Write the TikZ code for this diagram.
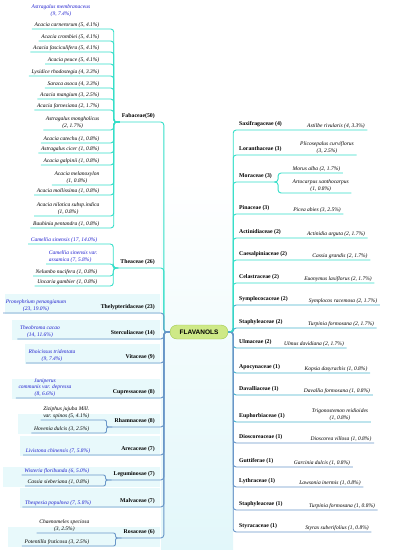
\documentclass[tikz,border=0pt]{standalone}
\usepackage{fontspec}
\setmainfont{Liberation Serif}
\setsansfont{Liberation Sans}
\usepackage{tikz}
\usetikzlibrary{positioning}
\definecolor{tealA}{RGB}{52,222,200}
\definecolor{tealB}{RGB}{70,178,205}
\definecolor{blueC}{RGB}{105,150,200}
\definecolor{specblue}{RGB}{30,30,205}
\definecolor{pill}{RGB}{206,233,135}
\definecolor{pillline}{RGB}{160,200,80}
\definecolor{bgcyan}{RGB}{226,247,250}

\tikzset{
  fam/.style={font=\fontsize{5.8}{6.5}\selectfont\bfseries, inner xsep=2pt, inner ysep=3.5pt},
  sp/.style={font=\fontsize{5.5}{6.5}\selectfont\itshape, inner xsep=2.5pt, inner ysep=1.5pt, align=center},
  spb/.style={sp, text=specblue},
  br/.style={line width=0.9pt, rounded corners=3pt},
  hub/.style={fill=pill, draw=pillline, rounded corners=7pt, minimum width=58pt,
    minimum height=14pt, font=\sffamily\bfseries\fontsize{6.5}{7}\selectfont},
}

\begin{document}
\begin{tikzpicture}[x=1pt,y=-1pt]
\useasboundingbox (0,0) rectangle (392,550);
% background
\shade[top color=white, bottom color=bgcyan] (161,180) rectangle (233,550);
\foreach \y/\x in {313/5,339/12,363/25,398/12,433/18,455/20,486/3,507/20,546/8}
  \fill[bgcyan!80] (\x,\y-19) rectangle (160,\y+1);

\node[hub] (flav) at (199,332) {FLAVANOLS};

% Fabaceae
\node[fam, anchor=south east] (fab) at (157,122) {Fabaceae(50)};
\node[spb, anchor=south] (astm) at (61,18) {Astragalus membranaceus\\(9, 7.4\%)};
\draw[br,tealA] (flav.west) -- ++(-6,0) |- (fab.south west);
\foreach[count=\i] \y/\t in {29/{Acacia carnerorum (5, 4.1\%)},
  41/{Acacia crombiei (5, 4.1\%)}, 52/{Acacia fasciculifera (5, 4.1\%)},
  64/{Acacia peuce (5, 4.1\%)}, 76/{Lysidice rhodostegia (4, 3.3\%)},
  88/{Saraca asoca (4, 3.3\%)}, 99/{Acacia mangium (3, 2.5\%)},
  110/{Acacia farnesiana (2, 1.7\%)}, 130/{Astragalus mongholicus\\(2, 1.7\%)},
  143/{Acacia catechu (1, 0.8\%)}, 153/{Astragalus cicer (1, 0.8\%)},
  165/{Acacia galpinii (1, 0.8\%)}, 185/{Acacia melanoxylon\\(1, 0.8\%)},
  195/{Acacia mollissima (1, 0.8\%)}, 216/{Acacia nilotica subsp.indica\\(1, 0.8\%)},
  228/{Bauhinia pentandra (1, 0.8\%)}}{
  \node[sp, anchor=south east] (fa\i) at (102,\y) {\t};
  \draw[br,tealA] (fab.south west) -- ++(-6,0) |- (fa\i.south east) -- (fa\i.south west);
}

% Theaceae
\node[fam, anchor=south east] (thea) at (157,268) {Theaceae (26)};
\node[spb, anchor=south east] (cam1) at (100,244) {Camellia sinensis (17, 14.0\%)};
\node[spb, anchor=south east, align=left] (cam2) at (100,264) {Camellia sinensis var.\\assamica (7, 5.8\%)};
\node[sp, anchor=south east] (nelu) at (100,276) {Nelumbo nucifera (1, 0.8\%)};
\node[sp, anchor=south east] (unca) at (100,286) {Uncaria gambier (1, 0.8\%)};
\draw[br,tealA] (flav.west) -- ++(-6,0) |- (thea.south west);
\foreach \n in {cam1,cam2,nelu,unca}
  \draw[br,tealA] (thea.south west) -- ++(-5,0) |- (\n.south east) -- (\n.south west);

% one-species families, left
\node[fam, anchor=south east] (thel) at (157,313) {Thelypteridaceae (23)};
\node[spb, anchor=south] (pron) at (36,313) {Pronephrium penangianum\\(23, 19.0\%)};
\node[fam, anchor=south east] (ster) at (157,339) {Sterculiaceae (14)};
\node[spb, anchor=south] (theo) at (40,339) {Theobroma cacao\\(14, 11.6\%)};
\node[fam, anchor=south east] (vita) at (157,363) {Vitaceae (9)};
\node[spb, anchor=south] (rhoi) at (52,363) {Rhoicissus tridentata\\(9, 7.4\%)};
\node[fam, anchor=south east] (cupr) at (157,398) {Cupressaceae (8)};
\node[spb, anchor=south] (juni) at (45,398) {Juniperus\\communis var. depressa\\(8, 6.6\%)};
\node[fam, anchor=south east] (arec) at (157,455) {Arecaceae (7)};
\node[spb, anchor=south] (livi) at (58,455) {Livistona chinensis (7, 5.8\%)};
\node[fam, anchor=south east] (malv) at (157,507) {Malvaceae (7)};
\node[spb, anchor=south] (thes) at (58,507) {Thespesia populnea (7, 5.8\%)};
\foreach \n in {pron,theo,rhoi,juni,livi,thes}
  \draw[br,blueC] (flav.west) -- ++(-6,0) |- (\n.south east) -- (\n.south west);

% families with two species, left
\node[fam, anchor=south east] (rham) at (157,427) {Rhamnaceae (8)};
\node[sp, anchor=south east, align=left] (zizi) at (92,420) {Ziziphus jujuba Mill.\\var. spinos (5, 4.1\%)};
\node[sp, anchor=south east] (hove) at (92,433) {Hovenia dulcis (3, 2.5\%)};
\node[fam, anchor=south east] (legu) at (157,480) {Leguminosae (7)};
\node[spb, anchor=south east] (wist) at (92,475) {Wisteria floribunda (6, 5.0\%)};
\node[sp, anchor=south east] (cass) at (92,486) {Cassia sieberiana (1, 0.8\%)};
\node[fam, anchor=south east] (rosa) at (157,538) {Rosaceae (6)};
\node[sp, anchor=south east] (chae) at (92,533) {Chaenomeles speciosa\\(3, 2.5\%)};
\node[sp, anchor=south east] (pote) at (92,546) {Potentilla fruticosa (3, 2.5\%)};
\foreach \f/\a/\b in {rham/zizi/hove, legu/wist/cass, rosa/chae/pote}{
  \draw[br,blueC] (flav.west) -- ++(-6,0) |- (\f.south west);
  \draw[br,blueC,rounded corners=2pt] (\f.south west) -- ++(-6,0) |- (\a.south east) -- (\a.south west);
  \draw[br,blueC,rounded corners=2pt] (\f.south west) -- ++(-6,0) |- (\b.south east) -- (\b.south west);
}

% right side
\foreach[count=\i] \y/\fn/\lx/\lt/\c in {
  130/{Saxifragaceae (4)}/336/{Astilbe rivularis (4, 3.3\%)}/tealA,
  155/{Loranthaceae (3)}/327/{Plicosepalus curviflorus\\(3, 2.5\%)}/tealA,
  214/{Pinaceae (3)}/317/{Picea abies (3, 2.5\%)}/tealA,
  238/{Actinidiaceae (2)}/336/{Actinidia arguta (2, 1.7\%)}/tealA,
  260/{Caesalpiniaceae (2)}/340/{Cassia grandis (2, 1.7\%)}/tealA,
  283/{Celastraceae (2)}/338/{Euonymus laxiflorus (2, 1.7\%)}/tealA,
  305/{Symplococaceae (2)}/343/{Symplocos racemosa (2, 1.7\%)}/tealB,
  328/{Staphyleaceae (2)}/341/{Turpinia formosana (2, 1.7\%)}/tealB,
  348/{Ulmaceae (2)}/314/{Ulmus davidiana (2, 1.7\%)}/tealB,
  373/{Apocynaceae (1)}/336/{Kopsia dasyrachis (1, 0.8\%)}/tealB,
  395/{Davalliaceae (1)}/337/{Davallia formosana (1, 0.8\%)}/tealB,
  422/{Euphorbiaceae (1)}/340/{Trigonostemon reidioides\\(1, 0.8\%)}/tealB,
  443/{Dioscoreaceae (1)}/341/{Dioscorea villosa (1, 0.8\%)}/blueC,
  467/{Guttiferae (1)}/322/{Garcinia dulcis (1, 0.8\%)}/blueC,
  487/{Lythraceae (1)}/330/{Lawsonia inermis (1, 0.8\%)}/blueC,
  510/{Staphyleaceae (1)}/342/{Turpinia formosana (1, 0.8\%)}/blueC,
  532/{Styracaceae (1)}/337/{Styrax suberifolius (1, 0.8\%)}/blueC}{
  \node[fam, anchor=south west] (rf\i) at (237,\y) {\fn};
  \node[sp, anchor=south] (rl\i) at (\lx,\y) {\lt};
  \draw[br,\c] (flav.east) -- ++(5,0) |- (rl\i.south east);
}

% Moraceae
\node[fam, anchor=south west] (mora) at (237,182) {Moraceae (3)};
\node[sp, anchor=south west] (moru) at (290,173) {Morus alba (2, 1.7\%)};
\node[sp, anchor=south west] (arto) at (290,193) {Artocarpus xanthocarpus\\(1, 0.8\%)};
\draw[br,tealA] (flav.east) -- ++(5,0) |- (mora.south east);
\draw[br,tealA] (mora.south east) -- ++(4,0) |- (moru.south west) -- (moru.south east);
\draw[br,tealA] (mora.south east) -- ++(4,0) |- (arto.south west) -- (arto.south east);
\end{tikzpicture}
\end{document}
